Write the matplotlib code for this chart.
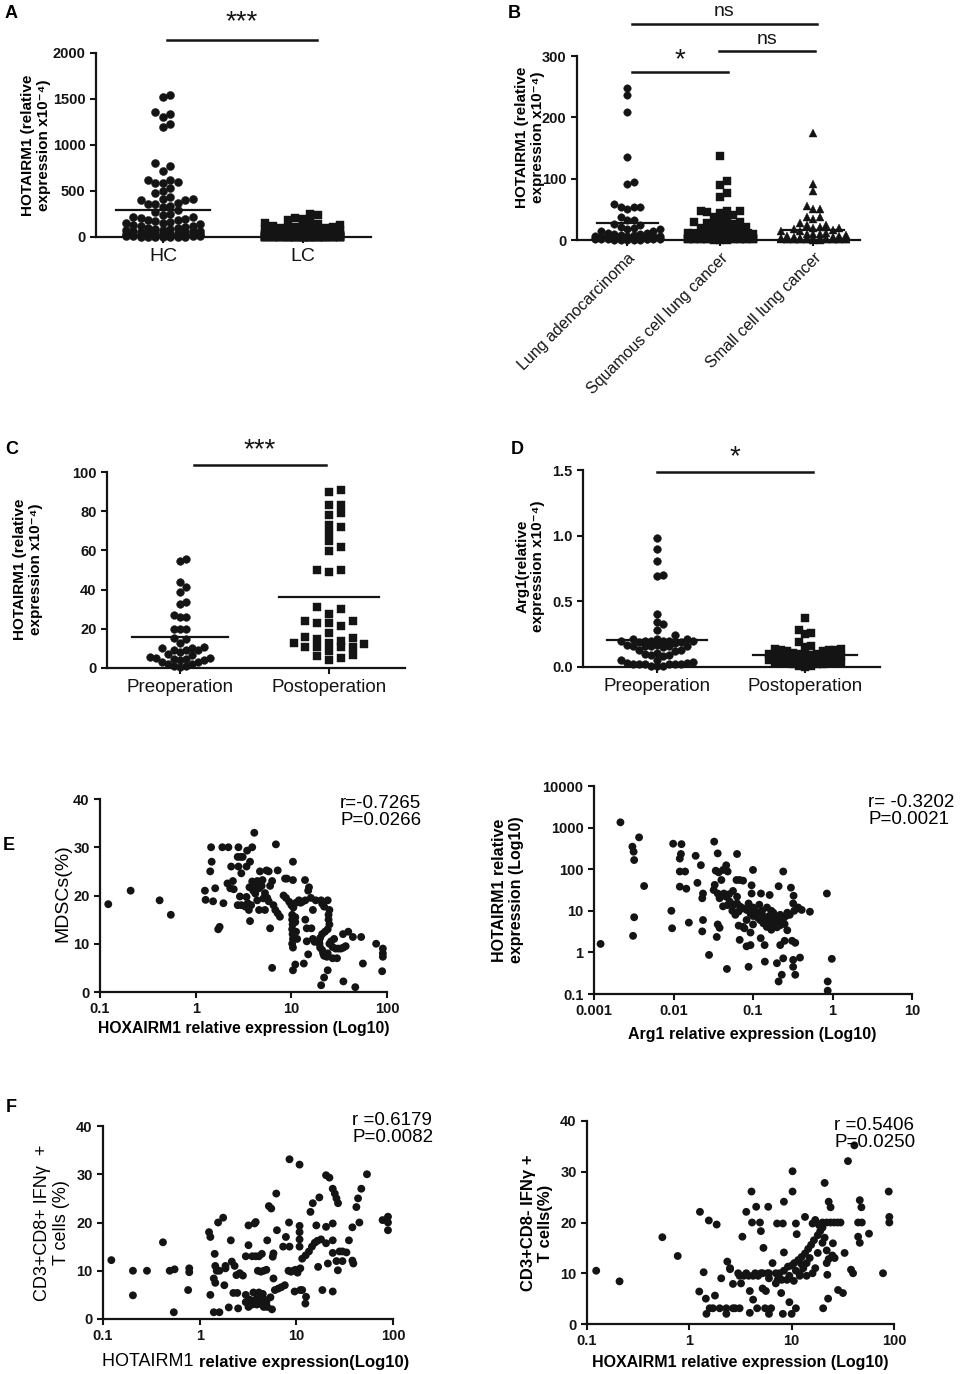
import numpy as np
import matplotlib
matplotlib.use("Agg")
import matplotlib.pyplot as plt
from matplotlib.lines import Line2D

plt.rcParams['font.family'] = ['Liberation Sans', 'DejaVu Sans']

W, H = 967, 1374
INK = '#141414'

# ---------------- data ----------------
A_cats = ['HC', 'LC']
A_HC = [1545, 1520, 1363, 1334, 1300, 1229, 1192, 800, 774, 720, 625, 625, 600, 589, 582, 538,
        500, 473, 436, 411, 411, 400, 400, 375, 364, 360, 340, 327, 291, 270, 250, 240, 218, 218,
        210, 200, 190, 180, 170, 160, 150, 150, 140, 130, 120, 115, 110, 100, 95, 90, 85, 80, 75,
        70, 60, 55, 50, 45, 40, 35, 30, 28, 25, 22, 20, 18, 15, 12, 10, 8, 6, 5, 4, 3, 2, 65, 48,
        33, 26, 14, 9, 7, 4, 3, 1]
A_LC = [254, 236, 211, 200, 185, 160, 150, 140, 130, 120, 115, 110, 105, 100, 100, 95, 90, 85, 80,
        75, 70, 65, 60, 55, 50, 48, 45, 42, 40, 38, 35, 33, 30, 28, 26, 25, 24, 22, 20, 19, 18, 17,
        16, 15, 14, 13, 12, 11, 10, 10, 9, 9, 8, 8, 7, 7, 6, 6, 5, 5, 5, 4, 4, 4, 3, 3, 3, 2, 2, 2,
        2, 1, 1, 1, 1, 1, 0.5, 0.5, 0.5, 0.5, 2, 1.5, 1, 0.8, 0.6, 0.4, 0.3, 0.2, 2, 1.5, 1, 0.8,
        0.6, 0.4, 0.3, 0.2, 1.2, 0.9, 0.7, 0.5, 1, 0.8, 0.6, 0.4, 0.3, 0.2, 0.1, 0.1, 0.5, 0.3]

B_cats = ['Lung adenocarcinoma', 'Squamous cell lung cancer', 'Small cell lung cancer']
B_adeno = [248, 236, 208, 136, 95, 91, 59, 54, 50, 53, 54, 38, 33, 26, 32, 25, 22, 20, 18, 15, 14,
           12, 10, 9, 8, 7, 6, 5, 4, 3, 3, 2, 2, 1, 1, 0.5, 0.5, 12, 18, 5, 8, 7, 6, 5, 4, 4, 3, 3,
           2, 2, 2, 1, 1, 1, 1, 0.5, 0.5, 0.5, 3, 4, 6, 2, 1]
B_squam = [137, 96, 89, 77, 70, 47, 47, 47, 45, 44, 40, 38, 35, 33, 30, 30, 28, 26, 25, 24, 22, 20,
           20, 18, 17, 15, 14, 12, 12, 10, 10, 9, 8, 8, 7, 6, 6, 5, 5, 4, 4, 3, 3, 3, 2, 2, 2, 1, 1,
           1, 1, 0.5, 0.5, 0.5, 4, 3, 3, 2, 2, 2, 2, 1, 1, 1, 1, 1, 3, 2, 2, 1, 4, 3, 2, 1, 1, 2, 2,
           3, 1]
B_small = [175, 92, 80, 55, 50, 50, 38, 38, 34, 28, 25, 24, 22, 20, 20, 18, 16, 15, 14, 12, 10, 10,
           9, 8, 7, 6, 5, 5, 4, 3, 3, 2, 2, 1, 1, 0.5, 0.5, 3, 2, 2, 1, 1, 2, 3, 2, 1, 1, 2, 3, 2, 1,
           2, 1, 1, 2]

CD_cats = ['Preoperation', 'Postoperation']
C_pre = [54.6, 55.5, 41.5, 43.7, 39, 32.6, 33.8, 26, 26, 27, 20, 20, 20, 15, 15.5, 13, 10, 9, 8,
         10.7, 9, 9, 10.4, 5.6, 4.8, 4.3, 3.9, 6.5, 7.3, 5.3, 4.6, 5.3, 3, 2.2, 0.9, 0.5, 0.9, 2.2, 3]
C_post = [91, 90, 83, 83, 78, 79, 72, 73, 69, 65, 61.5, 59.5, 50, 49, 50, 31, 30, 27.5, 24, 23, 23,
          24, 21.5, 18, 16, 15.5, 14, 15, 12.5, 13, 12, 10.5, 10.5, 10.5, 10.5, 8.5, 6, 4, 5, 6.5]
D_pre = [0.98, 0.90, 0.81, 0.69, 0.70, 0.40, 0.33, 0.34, 0.28, 0.24, 0.21, 0.21, 0.2, 0.2, 0.2,
         0.2, 0.19, 0.19, 0.2, 0.21, 0.2, 0.18, 0.16, 0.16, 0.17, 0.16, 0.15, 0.16, 0.16, 0.17,
         0.13, 0.12, 0.11, 0.13, 0.1, 0.09, 0.09, 0.08, 0.05, 0.05, 0.04, 0.03, 0.03, 0.02, 0.02,
         0.02, 0.02, 0.01, 0.01, 0.01, 0.02, 0.02]
D_post = [0.37, 0.28, 0.25, 0.26, 0.19, 0.16, 0.15, 0.14, 0.13, 0.13, 0.12, 0.14, 0.13, 0.12, 0.11,
          0.1, 0.1, 0.1, 0.09, 0.09, 0.08, 0.08, 0.08, 0.07, 0.07, 0.07, 0.06, 0.06, 0.06, 0.05,
          0.05, 0.05, 0.05, 0.04, 0.04, 0.04, 0.03, 0.03, 0.03, 0.02, 0.02, 0.02, 0.01, 0.01, 0.0]

E1_pts = [(0.122, 18.2), (0.209, 21), (0.42, 19), (0.55, 16),
    (1.25, 21), (1.27, 19.1), (1.45, 30), (1.42, 25), (1.47, 27), (1.52, 18.8), (1.6, 21.5),
    (1.72, 13), (1.78, 13.5), (1.95, 18.4), (1.9, 30), (2.15, 22.5), (2.2, 30), (2.35, 26),
    (2.3, 21.5), (2.45, 23), (2.5, 21.3), (2.8, 30), (2.75, 28), (2.8, 26), (2.75, 18), (3.0, 24.6),
    (2.95, 28), (3.1, 28), (3.0, 18), (2.9, 19.8), (3.3, 17.7), (3.4, 26), (3.45, 29.3), (3.7, 27),
    (3.9, 30), (4.1, 33), (3.6, 17), (3.7, 14.7), (3.65, 21.7), (3.4, 19.7), (3.9, 22.9),
    (4.2, 21.8), (4.4, 23), (4.2, 20.4), (4.4, 19), (4.6, 17), (3.5, 18.4), (3.8, 18), (4.0, 21),
    (4.3, 22), (4.6, 21.5), (4.8, 22.2), (4.7, 25), (4.9, 22), (5.0, 23.2), (5.3, 17), (5.5, 25.2),
    (5.1, 19.4), (5.3, 20.5), (5.6, 19.5), (5.8, 18.8), (6.0, 13.2), (6.3, 5), (5.8, 25), (6.3, 23),
    (6.9, 30.6), (7.2, 25.2), (6.0, 22), (6.5, 18), (6.8, 17), (7.2, 16.3), (7.6, 15.6), (8.3, 20),
    (8.8, 19.5), (8.6, 23.5), (9.0, 23.5), (10.4, 27), (10.4, 23.2), (9.5, 18.7), (10, 18),
    (10.5, 17.5), (10.2, 16), (10.2, 15), (10.3, 14), (10.2, 13), (10.3, 12), (10.4, 11), (10.2, 10),
    (10.4, 9.2), (11, 15.5), (11, 14.5), (11.2, 12.5), (11.5, 11), (11.2, 18.5), (12, 19),
    (12.5, 18.5), (13, 18.7), (14, 19), (13.9, 23.2), (15.3, 21.7), (15, 21), (16, 19.5), (14, 15),
    (14.5, 13.2), (16.8, 11), (16.2, 13.2), (16.8, 17), (14.5, 10.5), (15, 7.8), (13.5, 5.9),
    (11, 5.7), (10.4, 4.5), (18, 19), (20.5, 19), (21, 18.3), (22, 17.7), (24, 19), (25, 17),
    (24.5, 16), (24.5, 15), (25, 14), (24, 13), (22.5, 12.5), (21, 12), (20, 11.2), (19.5, 10.5),
    (17.5, 10.4), (19.7, 10), (20, 9.2), (21, 8.7), (21.5, 8), (22, 7.5), (23.5, 7.3), (24, 8),
    (24, 4.5), (22, 3), (20.5, 1.4), (25, 10), (27, 9.3), (29, 9), (31, 9), (33, 9), (35, 9.2),
    (37, 9.5), (39.4, 12.5), (34.7, 12), (44, 11.4), (53.7, 11.4), (77, 10), (90.5, 9), (90.5, 8),
    (90.5, 7.3), (89, 4.3), (56, 5.9), (35, 2.2), (46.6, 1), (27, 7), (30, 7), (26, 10.5), (28, 11)]

E2_pts = [(0.00121, 1.6), (0.00215, 1340), (0.00304, 348), (0.00315, 263), (0.0032, 166),
    (0.00369, 583), (0.00427, 39.4), (0.0032, 7.0), (0.0031, 2.5), (0.0099, 410), (0.0126, 400),
    (0.0124, 232), (0.012, 180), (0.012, 88), (0.014, 88), (0.012, 38), (0.0145, 34), (0.0094, 10),
    (0.0096, 3.8), (0.0156, 5.2), (0.019, 210), (0.0221, 125), (0.02, 47), (0.0235, 26), (0.023, 20),
    (0.0235, 6), (0.023, 3.2), (0.028, 0.87), (0.0325, 460), (0.036, 240), (0.034, 92), (0.037, 84),
    (0.033, 42), (0.032, 31.6), (0.036, 26), (0.04, 55), (0.042, 96), (0.046, 124), (0.048, 88),
    (0.043, 26), (0.038, 20), (0.042, 12.8), (0.048, 13.7), (0.035, 2.35), (0.036, 4.7),
    (0.038, 3.9), (0.047, 0.4), (0.063, 232), (0.062, 55), (0.068, 55), (0.075, 53), (0.063, 21.8),
    (0.071, 11.5), (0.066, 9.6), (0.066, 4.4), (0.068, 2.0), (0.078, 3.8), (0.088, 0.45),
    (0.093, 3), (0.093, 1.5), (0.083, 1.4), (0.1, 96), (0.096, 41), (0.096, 26), (0.126, 26),
    (0.162, 24), (0.21, 39), (0.24, 88), (0.3, 36), (0.324, 23), (0.32, 15), (0.37, 11.5),
    (0.41, 10.5), (0.52, 9.5), (0.141, 0.6), (0.2, 0.55), (0.24, 0.72), (0.21, 0.2), (0.23, 0.29),
    (0.32, 0.66), (0.32, 0.45), (0.34, 0.29), (0.39, 0.75), (0.34, 1.7), (0.31, 1.9), (0.27, 3.4),
    (0.25, 1.9), (0.22, 1.5), (0.14, 1.5), (0.125, 2.2), (0.85, 26), (0.87, 0.2), (0.87, 0.12),
    (0.98, 0.7), (0.046, 21.8), (0.051, 16.6), (0.057, 14), (0.063, 15), (0.069, 12.6),
    (0.075, 11.5), (0.083, 10.5), (0.088, 15), (0.093, 8.5), (0.1, 12), (0.1, 7.5), (0.11, 9.5),
    (0.115, 6.8), (0.123, 6), (0.128, 8.5), (0.135, 5), (0.14, 7), (0.149, 6), (0.149, 4.1),
    (0.155, 5.5), (0.162, 4.6), (0.16, 7.5), (0.17, 3.5), (0.18, 6), (0.18, 9), (0.19, 5), (0.2, 4),
    (0.2, 7), (0.21, 5.5), (0.22, 4.5), (0.22, 8), (0.24, 6.5), (0.25, 4.8), (0.26, 7.5), (0.27, 9),
    (0.29, 8), (0.33, 10), (0.37, 12), (0.075, 4.1), (0.1, 4.7), (0.083, 6), (0.06, 8), (0.055, 10),
    (0.05, 25), (0.056, 30), (0.13, 10), (0.15, 12), (0.12, 14), (0.17, 10)]

F1_pts = [(0.122, 12.2), (0.204, 10), (0.204, 4.9), (0.285, 10), (0.417, 15.9), (0.49, 10),
    (0.55, 10.3), (0.54, 1.4), (0.78, 10.5), (0.78, 9.7), (0.76, 6), (1.25, 18), (1.29, 17),
    (1.29, 5), (1.4, 1.4), (1.6, 1.4), (1.43, 13.5), (1.4, 8.4), (1.45, 7.5), (1.45, 11), (1.5, 10),
    (1.6, 10), (1.55, 20), (1.75, 21), (1.8, 7), (1.85, 11), (1.85, 10.5), (2.0, 2.4), (2.1, 16.3),
    (2.15, 11.9), (2.3, 11), (2.4, 9.1), (2.23, 5.4), (2.45, 5.4), (2.5, 2.2), (2.6, 9.5), (2.8, 9),
    (3.0, 13), (3.2, 19.4), (3.7, 19.8), (3.8, 20.1), (3.2, 15.3), (3.0, 5), (3.0, 3.5), (3.2, 2.5),
    (3.3, 4), (3.5, 3), (3.6, 5.5), (3.8, 4), (3.9, 3), (4.0, 4.5), (4.1, 5.5), (4.2, 3.5),
    (4.3, 4.2), (4.4, 3), (4.5, 5.2), (4.6, 2.5), (4.7, 4), (4.9, 3.5), (5.0, 2.5), (5.4, 4.5),
    (5.6, 2), (3.5, 13), (3.8, 13), (4.1, 13), (4.4, 13.5), (4.0, 10), (4.3, 9.8), (4.6, 10),
    (4.9, 10.2), (5.7, 12.9), (5.0, 16.3), (5.2, 23.4), (5.5, 22.9), (6.2, 26), (5.8, 13.6),
    (5.8, 8.4), (6.0, 6), (6.5, 6.3), (7.0, 6.6), (7.6, 7), (6.3, 18.4), (7.3, 15), (7.8, 17),
    (8.4, 20), (8.5, 33.1), (10.8, 32), (8.5, 15), (8.3, 10), (8.8, 9.8), (9.3, 10), (9.8, 10.2),
    (10.3, 9.6), (11, 10.5), (9.6, 5.7), (11, 6), (11.5, 6), (12.6, 4.6), (12.4, 3.2), (10.8, 19.3),
    (10.8, 18), (10.8, 16.5), (10.8, 15), (11.5, 12.5), (12.5, 13.2), (13.5, 14), (14.5, 15),
    (15.5, 15.8), (16.5, 16.2), (18, 16.5), (14, 22.2), (14.8, 24), (17.3, 25.2), (16.1, 19.4),
    (16.8, 10.8), (18.6, 6), (20.3, 29.8), (22, 29.3), (23.8, 27), (25, 26), (26, 25), (27, 24),
    (20.3, 19.1), (20.3, 15.7), (21.2, 11.5), (23.8, 13.7), (23.8, 16.3), (23.8, 5.7), (23.8, 19.8),
    (26.9, 10.1), (28, 14), (30, 14), (33, 13.8), (26, 12), (30, 12), (38, 12.1), (35, 16.3),
    (38, 19), (38.9, 11.5), (41.8, 23.2), (43.5, 25), (47, 27), (44.9, 20), (53.8, 30), (78, 20.5),
    (88.7, 21.2), (88.7, 20), (88.7, 18.4)]

F2_pts = [(0.123, 10.5), (0.208, 8.4), (0.545, 17.1), (0.77, 13.4), (1.27, 22.1), (1.55, 20.4),
    (1.85, 19.6), (1.38, 10.2), (1.25, 6.4), (1.45, 5), (1.78, 5.6), (1.47, 2.0), (1.58, 3.1),
    (1.7, 3.1), (1.98, 3.1), (2.3, 3.1), (2.67, 3.1), (3.1, 3.1), (2.3, 2.0), (2.8, 3.1), (2.05, 9),
    (2.35, 12.3), (2.5, 10.8), (2.67, 7.9), (3.3, 17.2), (3.1, 9.5), (3.4, 9.5), (3.8, 9.5),
    (4.2, 9.5), (4.7, 9.5), (3.0, 10), (3.6, 10), (4.4, 10), (5.2, 10), (5.8, 10), (4.05, 26.1),
    (4.5, 23.1), (3.6, 22.1), (4.1, 20), (4.9, 20), (5.0, 18.3), (5.3, 15), (5.9, 23.1), (7.2, 19.8),
    (8.2, 19.8), (8.4, 24.1), (10.2, 26.1), (10.2, 30.1), (11, 19.8), (8.4, 14.1), (11.2, 17.7),
    (3.9, 6.5), (4.2, 4.8), (4.6, 3.1), (3.9, 2.2), (5.5, 3.1), (6.0, 2.0), (6.3, 3.1), (5.2, 7),
    (5.6, 6.5), (7.9, 6.1), (8.2, 2.0), (9.5, 4.3), (10, 2.0), (11, 3.1), (21, 27.8), (20.3, 3.1),
    (22.7, 5), (22.3, 9.7), (22, 12), (23, 12.8), (25, 13.5), (23, 24.1), (24, 23), (25.3, 15.9),
    (26.3, 13), (28.4, 6.7), (31.7, 6.1), (32.9, 14), (35.5, 32.1), (41, 35.2), (38, 10.7),
    (39.8, 10), (46.3, 24.4), (48, 23), (44.6, 20), (48.5, 20), (44.6, 17.2), (46.3, 16),
    (57, 17.8), (78.1, 10), (88.8, 26.1), (90, 21.1), (90, 20), (20, 20), (22, 20), (24, 20),
    (26, 20), (28, 20), (30, 20), (13.5, 21.1), (16, 19.8), (17, 20.5), (18.5, 19.5), (7.6, 10),
    (8.4, 10.5), (9.2, 11.3), (10, 11.5), (10.6, 12), (11.6, 12.6), (12.5, 13.2), (13.5, 13.9),
    (14.5, 14.8), (15.5, 15.6), (16.5, 16.5), (18, 17.5), (19, 18.3), (20, 19), (6.5, 12), (7, 10),
    (8, 8.7), (7.3, 8.7), (9, 8.7), (9.5, 9.5), (12, 10), (13, 11), (14, 12), (15, 13), (16, 10),
    (17, 11), (18, 14), (20, 16), (21, 17), (11, 10.5), (12, 9.5), (10.5, 8.5), (12.5, 11.8),
    (14, 9.5), (22, 14.5), (5, 10), (6, 10), (6, 9), (7, 8), (2.5, 11), (3.2, 8)]

# ---------------- helpers ----------------
fig = plt.figure(figsize=(W / 100, H / 100), dpi=100)
fig.patch.set_facecolor('white')


def rect(l, t, r, b):
    return [l / W, 1 - b / H, (r - l) / W, (b - t) / H]


def fx(x):
    return x / W


def fy(y):
    return 1 - y / H


def style(ax, tick_fs=10.5, xfs=None):
    for s in ['top', 'right']:
        ax.spines[s].set_visible(False)
    for s in ['left', 'bottom']:
        ax.spines[s].set_linewidth(1.6)
        ax.spines[s].set_color(INK)
    ax.tick_params(axis='both', which='major', direction='out', length=4, width=1.5,
                   colors=INK)
    ax.tick_params(axis='y', labelsize=tick_fs)
    ax.tick_params(axis='x', labelsize=xfs if xfs else tick_fs)
    ax.tick_params(axis='both', which='minor', length=0)
    for lab in ax.get_yticklabels():
        lab.set_fontweight('bold')
    ax.patch.set_alpha(0)


def swarm_x(vals, center, px_per_x, px_per_y, col_px, thr_px, maxk):
    vals = np.asarray(vals, float)
    order = np.argsort(vals)
    xs = np.zeros(len(vals))
    last = {}
    seq = [0]
    for k in range(1, maxk + 1):
        seq += [k, -k]
    for i in order:
        ypx = vals[i] * px_per_y
        chosen = None
        for k in seq:
            if k not in last or ypx - last[k] >= thr_px:
                chosen = k
                break
        if chosen is None:
            chosen = min(seq, key=lambda k: last.get(k, -1e9))
        last[chosen] = ypx
        xs[i] = center + chosen * col_px / px_per_x
    return xs


def dotplot(ax, groups, markers, positions, ylim, box, col_px, thr_px, maxk, mean_half, ms=5.6):
    l, t, r, b = box
    xlim = ax.get_xlim()
    ppx = (r - l) / (xlim[1] - xlim[0])
    ppy = (b - t) / (ylim[1] - ylim[0])
    for vals, mk, pos, cp, th, mx, mh in zip(groups, markers, positions, col_px, thr_px, maxk,
                                             mean_half):
        xs = swarm_x(vals, pos, ppx, ppy, cp, th, mx)
        ax.plot(xs, vals, ls='none', marker=mk, ms=ms, color=INK, mec=INK, mew=0.3,
                clip_on=False, zorder=3)
        ax.plot([pos - mh, pos + mh], [np.mean(vals)] * 2, color=INK, lw=1.6, zorder=4,
                clip_on=False)


def sigbar(x1, x2, y, label, ty, fs):
    fig.add_artist(Line2D([fx(x1), fx(x2)], [fy(y), fy(y)], color=INK, lw=1.8))
    fig.text(fx((x1 + x2) / 2), fy(ty), label, ha='center', va='center', fontsize=fs, color=INK)


def cat_axis(ax, box, pos_px, cats, rotate=False):
    l, t, r, b = box
    unit = pos_px[1] - pos_px[0]
    a = 1 - (pos_px[0] - l) / unit
    n = len(pos_px)
    bb = n + (r - pos_px[-1]) / unit
    ax.set_xlim(a, bb)
    ax.set_xticks(range(1, n + 1))
    if rotate:
        ax.set_xticklabels(cats, rotation=45, ha='right', va='top', rotation_mode='anchor')
    else:
        ax.set_xticklabels(cats)
    return unit


# ---------------- Panel A ----------------
boxA = (96, 53, 371, 237)
axA = fig.add_axes(rect(*boxA))
unitA = cat_axis(axA, boxA, [163, 303], A_cats)
axA.set_ylim(0, 2000)
axA.set_yticks([0, 500, 1000, 1500, 2000])
dotplot(axA, [A_HC, A_LC], ['o', 's'], [1, 2], (0, 2000), boxA, [7.5, 7.5], [7.5, 7.0], [5, 5],
        [47 / unitA, 40 / unitA], ms=5.8)
style(axA, xfs=14)
axA.tick_params(axis='x', pad=4)
fig.text(fx(36), fy(145), 'HOTAIRM1 (relative\nexpression x10\u207b\u2074)', rotation=90,
         ha='center', va='center', fontsize=11, fontweight='bold', linespacing=1.1)
sigbar(167, 317, 40, '***', 22, 20)
fig.text(fx(11), fy(14), 'A', ha='center', va='center', fontsize=13, fontweight='bold')

# ---------------- Panel B ----------------
boxB = (577, 56, 860, 240)
axB = fig.add_axes(rect(*boxB))
unitB = cat_axis(axB, boxB, [628, 722, 813], B_cats, rotate=True)
axB.set_ylim(0, 300)
axB.set_yticks([0, 100, 200, 300])
dotplot(axB, [B_adeno, B_squam, B_small], ['o', 's', '^'], [1, 2, 3], (0, 300), boxB,
        [6.5, 6.5, 6.5], [6.5, 6.5, 6.5], [5, 5, 5], [31 / unitB, 31 / unitB, 31 / unitB],
        ms=5.4)
style(axB, xfs=11.5)
fig.text(fx(530), fy(137), 'HOTAIRM1 (relative\nexpression x10\u207b\u2074)', rotation=90,
         ha='center', va='center', fontsize=11, fontweight='bold', linespacing=1.1)
sigbar(632, 817, 24, 'ns', 12, 14)
sigbar(719, 815, 51, 'ns', 40, 14)
sigbar(632, 728, 72, '*', 60, 20)
fig.text(fx(514), fy(13), 'B', ha='center', va='center', fontsize=13, fontweight='bold')

# ---------------- Panel C ----------------
boxC = (107, 472, 405, 668)
axC = fig.add_axes(rect(*boxC))
unitC = cat_axis(axC, boxC, [180, 329], CD_cats)
axC.set_ylim(0, 100)
axC.set_yticks([0, 20, 40, 60, 80, 100])
dotplot(axC, [C_pre, C_post], ['o', 's'], [1, 2], (0, 100), boxC, [6.0, 11.8], [7.0, 7.0],
        [7, 3], [48 / unitC, 50 / unitC], ms=5.6)
style(axC, xfs=13.5)
axC.tick_params(axis='x', pad=4)
fig.text(fx(28), fy(569), 'HOTAIRM1 (relative\nexpression x10\u207b\u2074)', rotation=90,
         ha='center', va='center', fontsize=11, fontweight='bold', linespacing=1.1)
sigbar(194, 326, 465, '***', 450, 20)
fig.text(fx(12), fy(450), 'C', ha='center', va='center', fontsize=13, fontweight='bold')

# ---------------- Panel D ----------------
boxD = (583, 470, 880, 667)
axD = fig.add_axes(rect(*boxD))
unitD = cat_axis(axD, boxD, [657, 805], CD_cats)
axD.set_ylim(0, 1.5)
axD.set_yticks([0.0, 0.5, 1.0, 1.5])
axD.set_yticklabels(['0.0', '0.5', '1.0', '1.5'])
dotplot(axD, [D_pre, D_post], ['o', 's'], [1, 2], (0, 1.5), boxD, [6.0, 6.0], [7.0, 7.0],
        [6, 6], [50 / unitD, 52 / unitD], ms=5.6)
style(axD, xfs=13.5)
axD.tick_params(axis='x', pad=4)
fig.text(fx(530), fy(566), 'Arg1(relative\nexpression x10\u207b\u2074)', rotation=90,
         ha='center', va='center', fontsize=11, fontweight='bold', linespacing=1.1)
sigbar(657, 813, 472, '*', 457, 20)
fig.text(fx(517), fy(450), 'D', ha='center', va='center', fontsize=13, fontweight='bold')


# ---------------- scatter panels ----------------
def scatter_panel(box, pts, xlim, ylim, xticks, xticklabels, yticks, yticklabels, ylog=False):
    ax = fig.add_axes(rect(*box))
    xs = [p[0] for p in pts]
    ys = [p[1] for p in pts]
    ax.set_xscale('log')
    if ylog:
        ax.set_yscale('log')
    ax.scatter(xs, ys, s=32, color=INK, edgecolors='none', clip_on=False, zorder=3)
    ax.set_xlim(*xlim)
    ax.set_ylim(*ylim)
    ax.set_xticks(xticks)
    ax.set_xticklabels(xticklabels)
    ax.set_yticks(yticks)
    ax.set_yticklabels(yticklabels)
    ax.minorticks_off()
    style(ax)
    for lab in ax.get_xticklabels():
        lab.set_fontweight('bold')
    return ax


dec = [0.1, 1, 10, 100]
decl = ['0.1', '1', '10', '100']
y40 = [0, 10, 20, 30, 40]
y40l = ['0', '10', '20', '30', '40']

# E left
scatter_panel((100, 799, 387, 992), E1_pts, (0.1, 100), (0, 40), dec, decl, y40, y40l)
fig.text(fx(63), fy(893), 'MDSCs(%)', rotation=90, ha='center', va='center', fontsize=14)
fig.text(fx(244), fy(1029), 'HOXAIRM1 relative expression (Log10)', ha='center', va='center',
         fontsize=11.3, fontweight='bold')
fig.text(fx(340), fy(812), 'r=-0.7265\nP=0.0266', ha='left', va='center', fontsize=13.5,
         linespacing=1.0)
fig.text(fx(9), fy(845), 'E', ha='center', va='center', fontsize=13, fontweight='bold')

# E right
scatter_panel((594, 786, 912, 994), E2_pts, (0.001, 10), (0.1, 10000),
              [0.001, 0.01, 0.1, 1, 10], ['0.001', '0.01', '0.1', '1', '10'],
              [0.1, 1, 10, 100, 1000, 10000], ['0.1', '1', '10', '100', '1000', '10000'],
              ylog=True)
fig.text(fx(508), fy(890), 'HOTAIRM1 relative\nexpression (Log10)', rotation=90, ha='center',
         va='center', fontsize=11.5, fontweight='bold', linespacing=1.1)
fig.text(fx(752), fy(1035), 'Arg1 relative expression (Log10)', ha='center', va='center',
         fontsize=11.5, fontweight='bold')
fig.text(fx(868), fy(811), 'r= -0.3202\nP=0.0021', ha='left', va='center', fontsize=13.5,
         linespacing=1.0)

# F left
scatter_panel((103, 1126, 393, 1319), F1_pts, (0.1, 100), (0, 40), dec, decl, y40, y40l)
fig.text(fx(52), fy(1223), 'CD3+CD8+ IFN\u03b3  +\nT cells (%)', rotation=90, ha='center',
         va='center', fontsize=13, linespacing=1.1)
fig.text(fx(199), fy(1362), 'HOTAIRM1 ', ha='right', va='center', fontsize=13)
fig.text(fx(199), fy(1362), 'relative expression(Log10)', ha='left', va='center', fontsize=12,
         fontweight='bold')
fig.text(fx(352), fy(1129), 'r =0.6179\nP=0.0082', ha='left', va='center', fontsize=13.5,
         linespacing=1.0)
fig.text(fx(11), fy(1107), 'F', ha='center', va='center', fontsize=13, fontweight='bold')

# F right
scatter_panel((587, 1121, 894, 1324), F2_pts, (0.1, 100), (0, 40), dec, decl, y40, y40l)
fig.text(fx(537), fy(1223), 'CD3+CD8- IFN\u03b3 +\nT cells(%)', rotation=90, ha='center',
         va='center', fontsize=12, fontweight='bold', linespacing=1.1)
fig.text(fx(740), fy(1363), 'HOXAIRM1 relative expression (Log10)', ha='center', va='center',
         fontsize=11.5, fontweight='bold')
fig.text(fx(834), fy(1134), 'r =0.5406\nP=0.0250', ha='left', va='center', fontsize=13.5,
         linespacing=1.0)

fig.savefig('out.png', dpi=100, facecolor='white')
